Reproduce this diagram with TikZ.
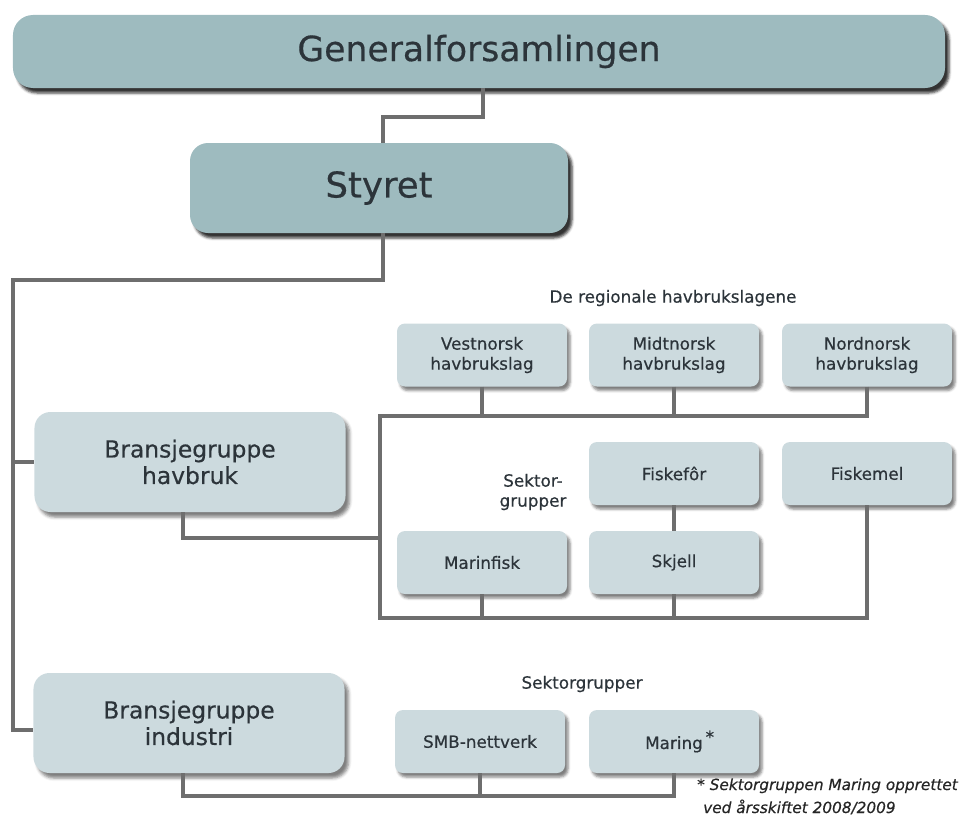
\documentclass[tikz,border=0pt]{standalone}
\usepackage{fontspec}
\setmainfont{DejaVu Sans}[FakeBold=0.5]
\usepackage{tikz}
\usetikzlibrary{positioning}
\usetikzlibrary{calc}
\usetikzlibrary{shadows.blur}
\definecolor{tealbox}{RGB}{158,187,191}
\definecolor{lightbox}{RGB}{204,218,222}
\definecolor{linegrey}{RGB}{110,110,110}
\definecolor{textgrey}{RGB}{44,52,58}

\begin{document}
\begin{tikzpicture}[x=1bp, y=-1bp,
	topbox/.style={rectangle, rounded corners=20bp, fill=tealbox, text=textgrey, inner sep=0pt,
		blur shadow={shadow xshift=4bp, shadow yshift=-5bp, shadow blur radius=2.5bp, shadow opacity=80}},
	groupbox/.style={rectangle, rounded corners=16bp, fill=lightbox, text=textgrey, inner sep=0pt, align=center,
		minimum width=311bp, minimum height=100bp, font=\fontsize{23.4bp}{26.5bp}\selectfont,
		blur shadow={shadow xshift=4bp, shadow yshift=-5bp, shadow blur radius=3bp, shadow opacity=50}},
	lagbox/.style={rectangle, rounded corners=8bp, fill=lightbox, text=textgrey, inner sep=0pt, align=center,
		minimum width=170bp, minimum height=63bp, font=\fontsize{16.8bp}{20bp}\selectfont,
		blur shadow={shadow xshift=3bp, shadow yshift=-4bp, shadow blur radius=2.5bp, shadow opacity=50}},
	headtext/.style={text=textgrey, inner sep=0pt, align=center, font=\fontsize{16.8bp}{20bp}\selectfont},
	notetext/.style={text=black!85, inner sep=0pt, anchor=base west, font=\fontsize{15.3bp}{22bp}\selectfont\itshape},
	mainline/.style={draw=linegrey, line width=4.5bp},
	subline/.style={draw=linegrey, line width=3.2bp}]
	\useasboundingbox (0,0) rectangle (961,822);
	% Top
	\node[topbox, minimum width=932bp, minimum height=73bp, font=\fontsize{34.6bp}{40bp}\selectfont] (gen) at (479,51.5) {Generalforsamlingen};
	\node[topbox, minimum width=378bp, minimum height=90bp, rounded corners=18bp, font=\fontsize{35.5bp}{40bp}\selectfont] (styret) at (379,188) {Styret};
	% Bransjegrupper
	\node[groupbox] (havbruk) at (190,462) {Bransjegruppe\\havbruk};
	\node[groupbox] (industri) at (189,723) {Bransjegruppe\\industri};
	% Havbrukslag
	\node[headtext] (lagtitle) at (673,298) {De regionale havbrukslagene};
	\node[lagbox] (vest) at (482,355) {Vestnorsk\\havbrukslag};
	\node[lagbox] (midt) at (674,355) {Midtnorsk\\havbrukslag};
	\node[lagbox] (nord) at (867,355) {Nordnorsk\\havbrukslag};
	% Sektorgrupper havbruk
	\node[headtext] (sektor) at (533,492) {Sektor-\\grupper};
	\node[lagbox] (fiskefor) at (674,473.5) {Fiskefôr};
	\node[lagbox] (fiskemel) at (867,473.5) {Fiskemel};
	\node[lagbox] (marinfisk) at (482,562.5) {Marinfisk};
	\node[lagbox] (skjell) at (674,562.5) {Skjell};
	% Sektorgrupper industri
	\node[headtext] (indtitle) at (582,684) {Sektorgrupper};
	\node[lagbox] (smb) at (480,741.5) {SMB-nettverk};
	\node[lagbox] (maring) at (674,741.5) {Maring\rlap{\,\raisebox{6bp}{*}}};
	\node[notetext] (note) at (697,790) {* Sektorgruppen Maring opprettet};
	\node[notetext] (note2) at ([xshift=6bp, yshift=-23bp]note.base west) {ved årsskiftet 2008/2009};
	% Connections
	\coordinate (trunk) at (13,280);
	\coordinate (lagleft) at (380,416);
	\coordinate (sekleft) at (380,618);
	\coordinate (havjoin) at (380,538);
	\coordinate (indbus) at (674,796);
	\draw[mainline] ([xshift=4bp]gen.south) -- ++(0,29) -| ([xshift=4bp]styret.north);
	\draw[mainline] ([xshift=4bp]styret.south) |- (trunk) |- ([yshift=-7bp]industri.west);
	\draw[mainline] (trunk |- havbruk.west) -- (havbruk.west);
	\draw[subline] (nord.south) |- (lagleft) -- (sekleft) -| (fiskemel.south);
	\draw[subline] (vest.south) -- (vest.south |- lagleft);
	\draw[subline] (midt.south) -- (midt.south |- lagleft);
	\draw[subline] (marinfisk.south) -- (marinfisk.south |- sekleft);
	\draw[subline] (skjell.south) -- (skjell.south |- sekleft);
	\draw[subline] (fiskefor) -- (skjell);
	\draw[subline] ([xshift=-7bp]havbruk.south) |- (havjoin);
	\draw[subline] ([xshift=-6bp]industri.south) |- (indbus) -- (maring.south);
	\draw[subline] (smb.south) -- (smb.south |- indbus);
\end{tikzpicture}
\end{document}
